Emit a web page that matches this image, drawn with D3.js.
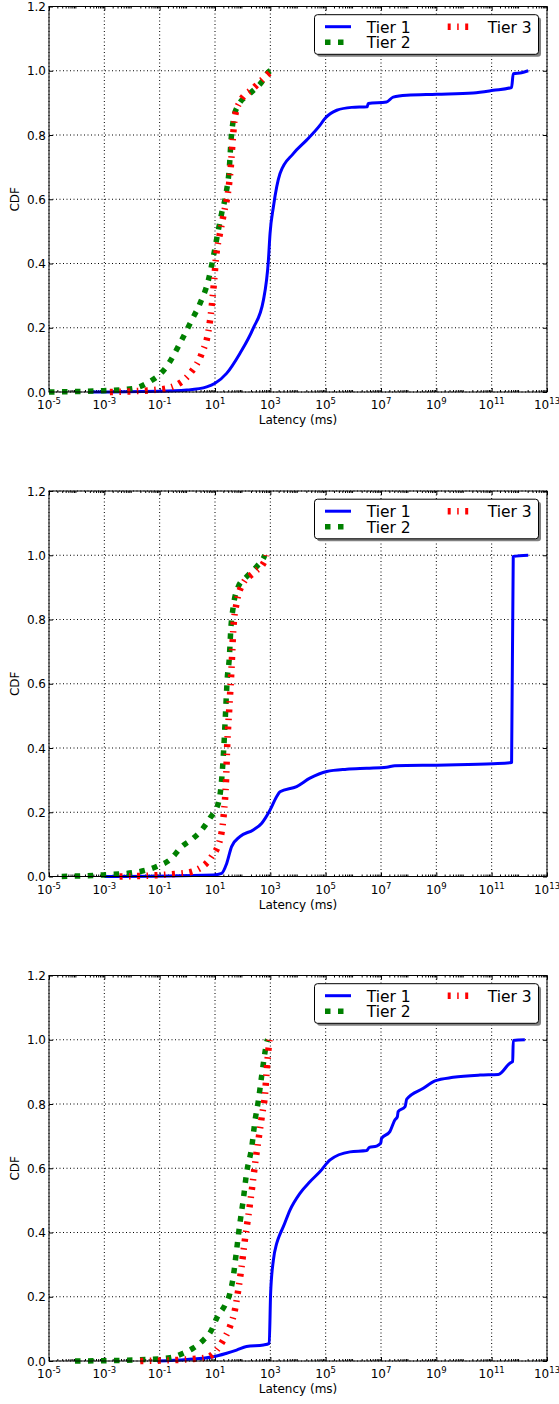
<!DOCTYPE html>
<html>
<head>
<meta charset="utf-8">
<script src="https://cdn.jsdelivr.net/npm/d3@7"></script>
<style>
  body { margin: 0; background: #fff; }
  svg { display: block; font-family: "DejaVu Sans", sans-serif; }
</style>
</head>
<body>
<div id="chart"></div>
<script>

// each point is [log10(latency in ms), CDF]
const p1Tier1 = [[-3.5,0],[-1,0.002],[-0.02,0.006],[0.7,0.016],[1.0,0.027],[1.42,0.058],[1.9,0.12],[2.38,0.198],[2.75,0.286],[2.93,0.41],[2.99,0.494],[3.11,0.576],[3.35,0.68],[3.83,0.742],[4.31,0.784],[4.79,0.83],[4.97,0.851],[5.4,0.877],[5.94,0.886],[6.5,0.888],[6.54,0.898],[7.2,0.903],[7.44,0.918],[7.93,0.924],[9.01,0.927],[10.33,0.931],[11.06,0.939],[11.72,0.948],[11.78,0.991],[12.08,0.994],[12.32,1.0]];
const p1Tier2 = [[-5,0],[-3.04,0.004],[-1.95,0.011],[-1.47,0.027],[-0.75,0.079],[-0.27,0.151],[0.16,0.224],[0.46,0.276],[0.76,0.348],[0.94,0.421],[1.12,0.504],[1.24,0.556],[1.4,0.618],[1.52,0.7],[1.58,0.784],[1.66,0.846],[1.81,0.888],[2.26,0.929],[2.69,0.965],[2.93,0.996],[3.0,1.0]];
const p1Tier3 = [[-2.8,0],[-0.99,0.008],[-0.39,0.022],[0.1,0.058],[0.52,0.12],[0.76,0.188],[0.88,0.265],[0.96,0.338],[1.04,0.421],[1.18,0.494],[1.32,0.556],[1.48,0.628],[1.57,0.7],[1.64,0.784],[1.72,0.856],[1.9,0.903],[2.38,0.945],[2.81,0.981],[3.05,1.0]];

const p2Tier1 = [[-3,0],[0.94,0.005],[1.24,0.01],[1.42,0.04],[1.6,0.093],[1.9,0.124],[2.38,0.145],[2.69,0.166],[2.99,0.207],[3.23,0.249],[3.35,0.264],[3.95,0.28],[4.43,0.306],[5.04,0.327],[5.76,0.334],[6.48,0.337],[7.2,0.34],[7.5,0.345],[9.37,0.347],[11.06,0.351],[11.72,0.355],[11.78,0.996],[12.32,1.0]];
const p2Tier2 = [[-4.54,0],[-3.04,0.005],[-1.95,0.012],[-1.11,0.031],[-0.63,0.052],[-0.2,0.093],[0.21,0.119],[0.52,0.145],[0.82,0.182],[1.12,0.228],[1.24,0.301],[1.32,0.404],[1.38,0.508],[1.44,0.612],[1.52,0.684],[1.57,0.768],[1.66,0.84],[1.84,0.902],[2.14,0.933],[2.51,0.965],[2.75,0.991],[2.8,1.0]];
const p2Tier3 = [[-2.45,0],[-0.15,0.01],[0.46,0.026],[0.88,0.062],[1.18,0.114],[1.32,0.197],[1.4,0.301],[1.44,0.404],[1.52,0.529],[1.6,0.653],[1.66,0.768],[1.78,0.851],[2.02,0.913],[2.38,0.944],[2.81,0.985],[2.85,1.0]];

const p3Tier1 = [[-1.1,0],[-0.02,0.005],[0.94,0.013],[1.42,0.024],[1.78,0.034],[2.14,0.045],[2.75,0.05],[2.96,0.055],[3.01,0.21],[3.11,0.314],[3.23,0.366],[3.35,0.395],[3.47,0.418],[3.71,0.47],[4.07,0.522],[4.43,0.558],[4.79,0.589],[5.16,0.626],[5.88,0.651],[6.48,0.655],[6.58,0.665],[6.84,0.669],[6.99,0.678],[7.02,0.693],[7.32,0.714],[7.5,0.75],[7.59,0.76],[7.62,0.776],[7.87,0.792],[7.93,0.815],[8.53,0.849],[8.95,0.872],[9.61,0.883],[10.58,0.89],[11.24,0.892],[11.66,0.927],[11.76,0.932],[11.78,0.998],[12.2,1.0]];
const p3Tier2 = [[-4.06,0],[-1.95,0.003],[-0.63,0.01],[-0.15,0.024],[0.21,0.04],[0.58,0.065],[0.88,0.097],[1.06,0.133],[1.36,0.174],[1.54,0.211],[1.66,0.262],[1.78,0.345],[1.9,0.429],[2.02,0.501],[2.14,0.584],[2.33,0.667],[2.45,0.75],[2.57,0.812],[2.69,0.89],[2.81,0.963],[2.87,0.994],[2.9,1.0]];
const p3Tier3 = [[-1.7,0],[-0.02,0.005],[0.7,0.011],[1.06,0.034],[1.3,0.065],[1.54,0.107],[1.72,0.159],[1.84,0.221],[1.96,0.293],[2.08,0.377],[2.2,0.449],[2.33,0.532],[2.45,0.615],[2.57,0.688],[2.69,0.76],[2.81,0.833],[2.87,0.906],[2.93,0.968],[2.97,1.0]];

const panels = [
	[p1Tier1, p1Tier2, p1Tier3],
	[p2Tier1, p2Tier2, p2Tier3],
	[p3Tier1, p3Tier2, p3Tier3]
];

const seriesNames = ["Tier 1", "Tier 2", "Tier 3"];
const xLabelExponents = [-5, -3, -1, 1, 3, 5, 7, 9, 11, 13];
const yTickValues = [0.0, 0.2, 0.4, 0.6, 0.8, 1.0, 1.2];

const seriesStyle = [
	{color: "#0000ff", width: 3, dash: null},
	{color: "#008000", width: 5.5, dash: "5.5,7.5"},
	{color: "#ff0000", width: 6.5, dash: "3,6.5,1.5,6.5"}
];

const W = 559, H = 1404;
const left = 49, right = 547;
const plotH = 385.5;
const panelTops = [6.5, 491, 975.5];

const svg = d3.select("#chart").append("svg")
	.attr("width", W)
	.attr("height", H);

const x = d3.scaleLog().domain([1e-5, 1e13]).range([left, right]);

// minor ticks 2..9 in every decade
const minorTicks = [];
for (let k = -5; k < 13; k++) {
	for (let m = 2; m < 10; m++) minorTicks.push(m * Math.pow(10, k));
}
const majorTicks = xLabelExponents.map(e => Math.pow(10, e));

function drawPanel(data, top) {
	const bottom = top + plotH;
	const y = d3.scaleLinear().domain([0, 1.2]).range([bottom, top]);
	const g = svg.append("g");

	// dotted grid
	const grid = g.append("g").attr("stroke", "#000").attr("stroke-width", 1)
		.attr("stroke-dasharray", "1,2.5");
	majorTicks.forEach(function(t) {
		grid.append("line")
			.attr("x1", x(t)).attr("x2", x(t))
			.attr("y1", top).attr("y2", bottom);
	});
	yTickValues.forEach(function(v) {
		grid.append("line")
			.attr("x1", left).attr("x2", right)
			.attr("y1", y(v)).attr("y2", y(v));
	});

	// ticks, inward on all sides
	[d3.axisBottom(x).tickValues(majorTicks).tickSize(-4).tickFormat(""),
	 d3.axisBottom(x).tickValues(minorTicks).tickSize(-2).tickFormat("")].forEach(function(ax) {
		g.append("g").attr("transform", `translate(0,${bottom})`).call(ax)
			.call(s => s.select(".domain").remove());
	});
	[d3.axisTop(x).tickValues(majorTicks).tickSize(-4).tickFormat(""),
	 d3.axisTop(x).tickValues(minorTicks).tickSize(-2).tickFormat("")].forEach(function(ax) {
		g.append("g").attr("transform", `translate(0,${top})`).call(ax)
			.call(s => s.select(".domain").remove());
	});
	g.append("g").attr("transform", `translate(${left},0)`)
		.call(d3.axisLeft(y).tickValues(yTickValues).tickSize(-4).tickFormat(""))
		.call(s => s.select(".domain").remove());
	g.append("g").attr("transform", `translate(${right},0)`)
		.call(d3.axisRight(y).tickValues(yTickValues).tickSize(-4).tickFormat(""))
		.call(s => s.select(".domain").remove());
	g.selectAll(".tick line").attr("stroke", "#000").attr("stroke-width", 1);

	// x tick labels 10^e
	xLabelExponents.forEach(function(e) {
		const t = g.append("text")
			.attr("x", x(Math.pow(10, e)))
			.attr("y", bottom + 17)
			.attr("text-anchor", "middle")
			.attr("font-size", 12)
			.attr("fill", "#000");
		t.append("tspan").text("10");
		t.append("tspan").attr("dy", -5).attr("font-size", 8.5).text(e);
	});

	// y tick labels
	yTickValues.forEach(function(v) {
		g.append("text")
			.attr("x", left - 3)
			.attr("y", y(v) + 4.5)
			.attr("text-anchor", "end")
			.attr("font-size", 12)
			.text(v.toFixed(1));
	});

	g.append("text")
		.attr("x", (left + right) / 2)
		.attr("y", bottom + 32)
		.attr("text-anchor", "middle")
		.attr("font-size", 12)
		.text("Latency (ms)");

	g.append("text")
		.attr("transform", `translate(19,${(top + bottom) / 2}) rotate(-90)`)
		.attr("text-anchor", "middle")
		.attr("font-size", 12)
		.text("CDF");

	// curves
	const line = d3.line()
		.x(d => x(Math.pow(10, d[0])))
		.y(d => y(d[1]))
		.curve(d3.curveMonotoneX);

	data.forEach(function(series, i) {
		const st = seriesStyle[i];
		g.append("path")
			.datum(series)
			.attr("d", line)
			.attr("fill", "none")
			.attr("stroke", st.color)
			.attr("stroke-width", st.width)
			.attr("stroke-linejoin", "round")
			.attr("stroke-dasharray", st.dash);
	});

	// frame
	g.append("rect")
		.attr("x", left).attr("y", top)
		.attr("width", right - left).attr("height", plotH)
		.attr("fill", "none").attr("stroke", "#000").attr("stroke-width", 1);

	// legend
	const lx = 314.5, ly = top + 8.2, lw = 224, lh = 39.6;
	g.append("rect")
		.attr("x", lx + 2.5).attr("y", ly + 2.5)
		.attr("width", lw).attr("height", lh)
		.attr("rx", 3).attr("fill", "#808080");
	g.append("rect")
		.attr("x", lx).attr("y", ly)
		.attr("width", lw).attr("height", lh)
		.attr("rx", 3).attr("fill", "#fff")
		.attr("stroke", "#000").attr("stroke-width", 1);

	const legendPos = [
		{sx: 325, tx: 366.7, row: 0},
		{sx: 325, tx: 366.7, row: 1},
		{sx: 447.7, tx: 487.7, row: 0}
	];
	legendPos.forEach(function(p, i) {
		const st = seriesStyle[i];
		const ry = top + 20.2 + p.row * 15.6;
		g.append("line")
			.attr("x1", p.sx).attr("x2", p.sx + 26)
			.attr("y1", ry).attr("y2", ry)
			.attr("stroke", st.color)
			.attr("stroke-width", st.width)
			.attr("stroke-dasharray", st.dash);
		g.append("text")
			.attr("x", p.tx)
			.attr("y", ry + 6)
			.attr("font-size", 15.5)
			.text(seriesNames[i]);
	});
}

panels.forEach(function(data, i) {
	drawPanel(data, panelTops[i]);
});

</script>
</body>
</html>
